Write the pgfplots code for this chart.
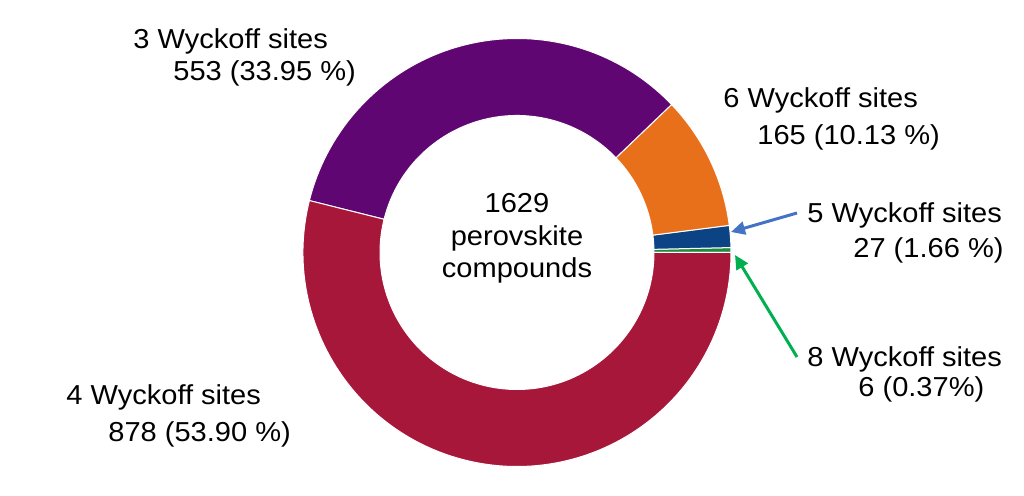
\documentclass[border=0pt]{standalone}
\usepackage{pgfplots}
\pgfplotsset{compat=1.18}
\usepackage{pgfplotstable}
\usetikzlibrary{arrows.meta}
\usepackage{fontspec}
\setmainfont{Liberation Sans}

\definecolor{cEight}{HTML}{1E8C3A}
\definecolor{cFive}{HTML}{0B4385}
\definecolor{cSix}{HTML}{E8701A}
\definecolor{cThree}{HTML}{5F0672}
\definecolor{cFour}{HTML}{A6173A}
\definecolor{arrBlue}{HTML}{4472C4}
\definecolor{arrGreen}{HTML}{00B050}

% number of Wyckoff sites, number of compounds (counter-clockwise from 0 deg)
\pgfplotstableread{
sites count
8 6
5 27
6 165
3 553
4 878
}\donutdata

\newcommand\sector[3]{%
  \fill[#3, draw=white, line width=0.5pt]
    ([shift={(#1:107pt)}]c) arc[start angle=#1, end angle=#2, radius=107pt]
    -- ([shift={(#2:68.5pt)}]c) arc[start angle=#2, end angle=#1, radius=68.5pt] -- cycle;}
\newcommand\lbl[1]{\scalebox{1.06}[1]{#1}}

\begin{document}
\begin{tikzpicture}[font=\fontsize{13.7pt}{16pt}\selectfont]
\pgfplotstablegetelem{0}{count}\of\donutdata\pgfmathsetmacro\nA{\pgfplotsretval}
\pgfplotstablegetelem{1}{count}\of\donutdata\pgfmathsetmacro\nB{\pgfplotsretval}
\pgfplotstablegetelem{2}{count}\of\donutdata\pgfmathsetmacro\nC{\pgfplotsretval}
\pgfplotstablegetelem{3}{count}\of\donutdata\pgfmathsetmacro\nD{\pgfplotsretval}
\pgfplotstablegetelem{4}{count}\of\donutdata\pgfmathsetmacro\nE{\pgfplotsretval}
\pgfmathsetmacro\tot{\nA+\nB+\nC+\nD+\nE}
\pgfmathsetmacro\aA{360*(\nA/\tot)}
\pgfmathsetmacro\aB{\aA+360*(\nB/\tot)}
\pgfmathsetmacro\aC{\aB+360*(\nC/\tot)}
\pgfmathsetmacro\aD{\aC+360*(\nD/\tot)}
\begin{axis}[
  hide axis, scale only axis,
  width=512pt, height=248pt,
  xmin=0, xmax=1024, ymin=0, ymax=496, y dir=reverse,
  clip=false,
]
\coordinate (c) at (axis cs:517,252.5);
\sector{0}{\aA}{cEight}
\sector{\aA}{\aB}{cFive}
\sector{\aB}{\aC}{cSix}
\sector{\aC}{\aD}{cThree}
\sector{\aD}{360}{cFour}

\draw[arrBlue, line width=1.5pt, -{Triangle[length=7pt,width=6.5pt]}] (axis cs:797,213) -- (axis cs:731,232);
\draw[arrGreen, line width=1.5pt, -{Triangle[length=7pt,width=6.5pt]}] (axis cs:797,357) -- (axis cs:735,255);

\node[anchor=base west, inner sep=0] at (axis cs:133,49) {\lbl{3 Wyckoff sites}};
\node[anchor=base west, inner sep=0] at (axis cs:173,81) {\lbl{553 (33.95 \%)}};
\node[anchor=base west, inner sep=0] at (axis cs:723,108) {\lbl{6 Wyckoff sites}};
\node[anchor=base west, inner sep=0] at (axis cs:757,145) {\lbl{165 (10.13 \%)}};
\node[anchor=base west, inner sep=0] at (axis cs:807,223) {\lbl{5 Wyckoff sites}};
\node[anchor=base west, inner sep=0] at (axis cs:853,258) {\lbl{27 (1.66 \%)}};
\node[anchor=base west, inner sep=0] at (axis cs:807,367) {\lbl{8 Wyckoff sites}};
\node[anchor=base west, inner sep=0] at (axis cs:858,397) {\lbl{6 (0.37\%)}};
\node[anchor=base west, inner sep=0] at (axis cs:66,405) {\lbl{4 Wyckoff sites}};
\node[anchor=base west, inner sep=0] at (axis cs:108,442) {\lbl{878 (53.90 \%)}};
\node[anchor=base, inner sep=0] at (axis cs:517,213) {\lbl{1629}};
\node[anchor=base, inner sep=0] at (axis cs:517,246) {\lbl{perovskite}};
\node[anchor=base, inner sep=0] at (axis cs:517,278) {\lbl{compounds}};
\end{axis}
\pgfresetboundingbox
\path (0,0) rectangle (512pt,248pt);
\end{tikzpicture}
\end{document}
